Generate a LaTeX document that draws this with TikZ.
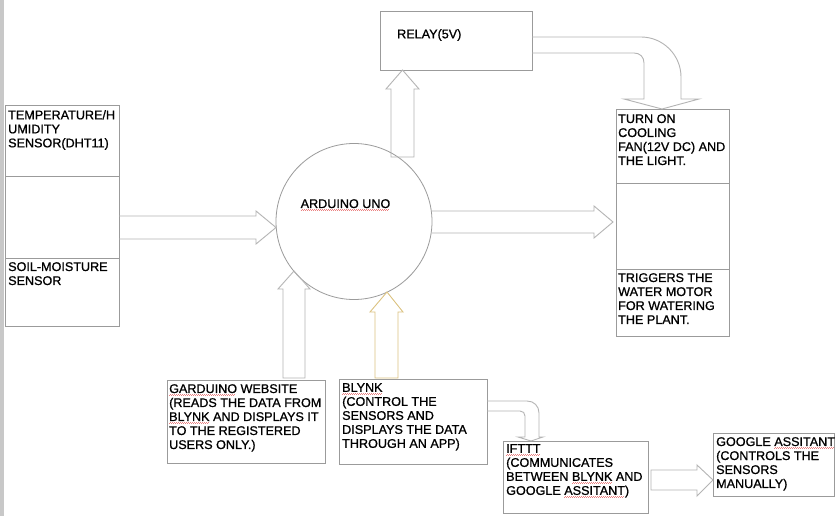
\documentclass[tikz,border=0pt]{standalone}
\usepackage{fontspec}
\setmainfont{Liberation Sans}[FakeBold=0.9]
\definecolor{boxgray}{RGB}{155,155,155}
\definecolor{arrgray}{RGB}{180,180,180}
\definecolor{stripgray}{RGB}{200,200,200}
\definecolor{tan}{RGB}{220,195,130}
\definecolor{squig}{RGB}{235,130,130}
\newsavebox\sqbox
\newcommand\redsq[1]{\sbox\sqbox{#1}\rlap{\usebox\sqbox}\raisebox{-2.6pt}{\textcolor{squig}{\leaders\hbox to 2pt{\rule{1pt}{0.5pt}\raisebox{0.6pt}{\rule{1pt}{0.5pt}}}\hskip\wd\sqbox}}}
\tikzset{
  box/.style={draw=boxgray, line width=0.8pt, fill=white, inner sep=0pt, minimum width=#1},
  lbl/.style={anchor=north west, inner sep=0pt, align=left, font=\fontsize{12.6}{14}\selectfont, text=black},
  blockarrow/.style={draw=arrgray, line width=0.9pt, line join=miter},
  divider/.style={draw=boxgray, line width=0.8pt},
}
\begin{document}
\begin{tikzpicture}[x=1pt,y=-1pt]
\useasboundingbox (0,0) rectangle (839,516);
\fill[white] (0,0) rectangle (839,516);
\fill[stripgray] (0,0) rectangle (4,516);

% boxes
\node[box=114pt, minimum height=221pt] (sens) at (62,215.5) {};
\draw[divider] (5,176) -- (119,176);
\draw[divider] (5,258) -- (119,258);
\node[box=152pt, minimum height=59pt] (relay) at (456,40.5) {};
\node[box=113pt, minimum height=227pt] (fan) at (672.5,222.5) {};
\draw[divider] (616,183) -- (729,183);
\draw[divider] (616,269) -- (729,269);
\node[box=158pt, minimum height=83pt] (gard) at (246,421.5) {};
\node[box=148pt, minimum height=85pt] (blynk) at (413,421.5) {};
\node[box=145pt, minimum height=72pt] (ifttt) at (575.5,477) {};
\node[box=121pt, minimum height=63pt] (google) at (773.5,464.5) {};
\node[circle, draw=boxgray, line width=0.8pt, minimum size=156pt, inner sep=0pt] (ard) at (354,221.5) {};

% block arrows
\draw[blockarrow] (119,216) -- (256,216) -- (256,211) -- (276,227.5) -- (256,244) -- (256,239) -- (119,239);
\draw[blockarrow] (391,157) -- (391,89) -- (386,89) -- (402.5,70) -- (419,89) -- (414,89) -- (414,157) -- cycle;
\draw[blockarrow] (432,211) -- (594,211) -- (594,206) -- (613,222) -- (594,238) -- (594,233) -- (432,233);
\draw[blockarrow] (532,37) -- (641,37) .. controls (663,37) and (681,55) .. (681,77) -- (681,99) -- (699,99) -- (662,109) -- (624,99) -- (644,99) -- (644,63) .. controls (644,57) and (640,53) .. (634,53) -- (532,53);
\draw[blockarrow] (283,378) -- (283,289) -- (278,289) -- (294,271) -- (310,289) -- (305,289) -- (305,378) -- cycle;
\draw[draw=tan, line width=0.9pt] (375,378) -- (375,312) -- (370,312) -- (387,292) -- (403,312) -- (398,312) -- (398,378) -- cycle;
\draw[blockarrow] (487,401) -- (527,401) .. controls (534,401) and (539,406) .. (539,413) -- (539,437) -- (543,437) -- (531,441) -- (518,437) -- (525,437) -- (525,416) .. controls (525,413) and (523,411) .. (520,411) -- (487,411);
\draw[blockarrow] (651,470) -- (697,470) -- (697,465) -- (713,480) -- (697,496) -- (697,490) -- (651,490) -- cycle;

% labels
\node[lbl] (senst1) at (8,110) {TEMPERATURE/H\\UMIDITY\\SENSOR(DHT11)};
\node[lbl] (senst2) at (8,262) {SOIL-MOISTURE\\SENSOR};
\node[lbl] (relayt) at (397,29) {RELAY(5V)};
\node[lbl] (ardt) at (300.5,199) {\redsq{ARDUINO UNO}};
\node[lbl] (fant1) at (618,114) {TURN ON\\COOLING\\FAN(12V DC) AND\\THE LIGHT.};
\node[lbl] (fant2) at (618,273) {TRIGGERS THE\\WATER MOTOR\\FOR WATERING\\THE PLANT.};
\node[lbl] (gardt) at (169,384) {\redsq{GARDUINO} WEBSITE\\(READS THE DATA FROM\\\redsq{BLYNK} AND DISPLAYS IT\\TO THE REGISTERED\\USERS ONLY.)};
\node[lbl] (blynkt) at (342,383) {\redsq{BLYNK}\\(CONTROL THE\\SENSORS AND\\DISPLAYS THE DATA\\THROUGH AN APP)};
\node[lbl] (iftttt) at (506,444) {\redsq{IFTTT}\\(COMMUNICATES\\BETWEEN \redsq{BLYNK} AND\\GOOGLE \redsq{ASSITANT})};
\node[lbl] (googlet) at (716,437) {GOOGLE \redsq{ASSITANT}\\(CONTROLS THE\\SENSORS\\MANUALLY)};
\end{tikzpicture}
\end{document}
